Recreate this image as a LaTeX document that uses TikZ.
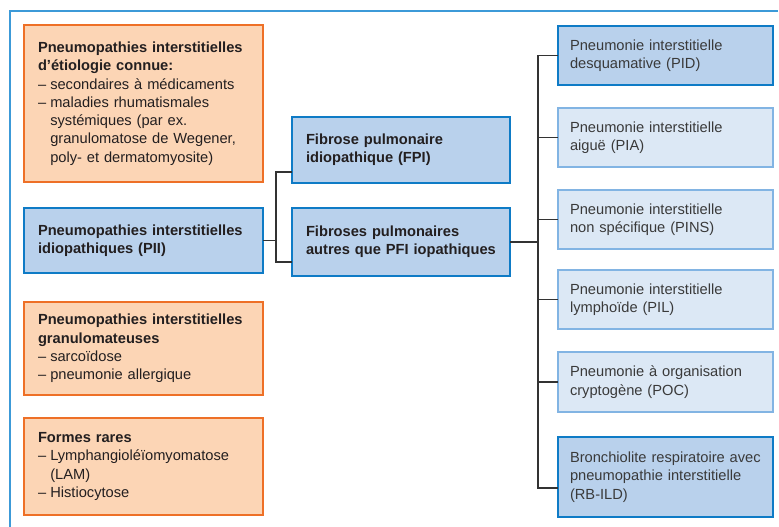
\documentclass[tikz,border=0pt]{standalone}
\usepackage{fontspec}
\setmainfont{Liberation Sans}
\definecolor{orfill}{HTML}{FCD5B5}
\definecolor{ordraw}{HTML}{EE7027}
\definecolor{dbfill}{HTML}{B9D1EC}
\definecolor{dbdraw}{HTML}{0E7BC6}
\definecolor{lbfill}{HTML}{DCE8F5}
\definecolor{lbdraw}{HTML}{82B4E3}
\definecolor{framec}{HTML}{3C9AD8}
\definecolor{txt}{HTML}{231F20}
\definecolor{txtr}{HTML}{3A3A3A}
\definecolor{conncol}{HTML}{333333}
\newlength\dashw
\setlength\dashw{9.2pt}
\newcommand\itm{\makebox[\dashw][l]{–}}
\newcommand\ind{\hspace*{\dashw}}
\begin{document}
\begin{tikzpicture}[x=0.75pt,y=-0.75pt,
  every node/.style={font=\fontsize{11}{13.7}\selectfont, text=txt},
  basebox/.style={rectangle, anchor=north west, line width=2.2pt, outer sep=0pt, inner xsep=10.5pt, inner ysep=0pt, align=left},
  orbox/.style={basebox, draw=ordraw, fill=orfill, minimum width=179.25pt, text width=158.25pt},
  midbox/.style={basebox, draw=dbdraw, fill=dbfill, minimum width=163.5pt, text width=142.5pt, font=\fontsize{11}{13.7}\selectfont\bfseries},
  rdbox/.style={basebox, draw=dbdraw, fill=dbfill, inner xsep=9pt, minimum width=161.25pt, text width=143.25pt, text=txtr},
  rlbox/.style={basebox, draw=lbdraw, fill=lbfill, inner xsep=9pt, minimum width=161.25pt, text width=143.25pt, text=txtr},
  conn/.style={draw=conncol, line width=1pt},
  framel/.style={draw=framec, line width=1.6pt}
]
\useasboundingbox (0,0) rectangle (779,527);
\draw[framel] (10,527) -- (10,11) -- (778,11);

% left column
\node[orbox, minimum height=117.75pt] (ETI) at (24,25)
  {\bfseries Pneumopathies interstitielles\\ d’étiologie connue:\\
   \mdseries\itm secondaires à médicaments\\
   \itm maladies rhumatismales\\
   \ind systémiques (par ex.\\
   \ind granulomatose de Wegener,\\
   \ind poly- et dermatomyosite)};
\node[orbox, draw=dbdraw, fill=dbfill, minimum height=48.75pt] (PII) at (24,208)
  {\bfseries Pneumopathies interstitielles\\ idiopathiques (PII)};
\node[orbox, minimum height=69.75pt] (GRA) at (24,302)
  {\bfseries Pneumopathies interstitielles\\ granulomateuses\\
   \mdseries\itm sarcoïdose\\
   \itm pneumonie allergique};
\node[orbox, minimum height=72.75pt] (RAR) at (24,418)
  {\bfseries Formes rares\\
   \mdseries\itm Lymphangioléïomyomatose\\
   \ind (LAM)\\
   \itm Histiocytose};

% middle column
\node[midbox, minimum height=49.5pt] (FPI) at (292,117)
  {Fibrose pulmonaire\\ idiopathique (FPI)};
\node[midbox, minimum height=51pt] (AUT) at (292,208)
  {Fibroses pulmonaires\\ autres que PFI iopathiques};

% right column
\node[rdbox, minimum height=44.25pt] (PID) at (558,26)
  {Pneumonie interstitielle\\ desquamative (PID)};
\node[rlbox, minimum height=44.25pt] (PIA) at (558,108)
  {Pneumonie interstitielle\\ aiguë (PIA)};
\node[rlbox, minimum height=44.25pt] (PINS) at (558,190)
  {Pneumonie interstitielle\\ non spécifique (PINS)};
\node[rlbox, minimum height=44.25pt] (PIL) at (558,270)
  {Pneumonie interstitielle\\ lymphoïde (PIL)};
\node[rlbox, minimum height=45pt] (POC) at (558,352)
  {Pneumonie à organisation\\ cryptogène (POC)};
\node[rdbox, minimum height=60pt] (RB) at (558,437)
  {Bronchiolite respiratoire avec\\ pneumopathie interstitielle\\ (RB-ILD)};

% connectors
\coordinate (jL) at (PII.east -| 276,0);
\coordinate (jR) at (AUT.east -| 538,0);
\draw[conn] (PII.east) -- (jL);
\draw[conn] (FPI.west |- 0,172) -| (jL) |- (AUT.west |- 0,262);
\draw[conn] (AUT.east) -- (jR);
\draw[conn] (PID.west) -| (jR) |- (RB.west |- 0,488);
\foreach \n in {PIA,PINS,PIL,POC} \draw[conn] (\n.west) -- (\n.west -| jR);
\end{tikzpicture}
\end{document}
